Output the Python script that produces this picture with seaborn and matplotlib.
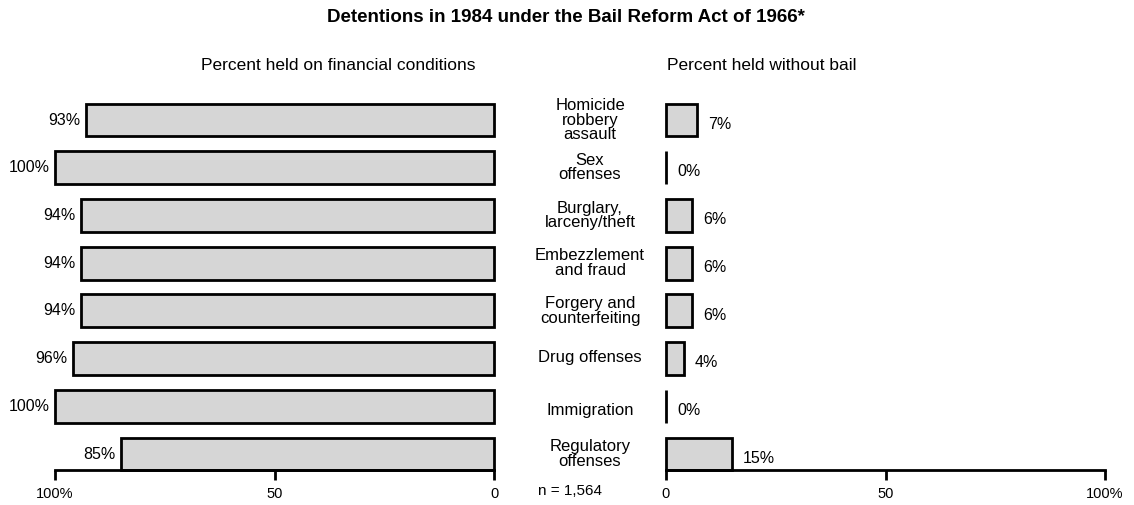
import matplotlib
matplotlib.use("Agg")
import matplotlib.pyplot as plt
import matplotlib.transforms as mtrans
import seaborn as sns
import pandas as pd

categories = ["Homicide\nrobbery\nassault", "Sex\noffenses", "Burglary,\nlarceny/theft",
              "Embezzlement\nand fraud", "Forgery and\ncounterfeiting", "Drug offenses",
              "Immigration", "Regulatory\noffenses"]
financial = [93, 100, 94, 94, 94, 96, 100, 85]
without_bail = [7, 0, 6, 6, 6, 4, 0, 15]
title = "Detentions in 1984 under the Bail Reform Act of 1966*"
left_title = "Percent held on financial conditions"
right_title = "Percent held without bail"
n_label = "n = 1,564"

df = pd.DataFrame({"category": categories, "financial": financial, "without": without_bail})

sns.set_theme(style="white")
plt.rcParams["font.family"] = ["Liberation Sans", "DejaVu Sans"]
plt.rcParams["text.color"] = "black"
plt.rcParams["xtick.color"] = "black"
plt.rcParams["xtick.labelcolor"] = "black"

W, H = 1134, 505
fig = plt.figure(figsize=(W / 100, H / 100), dpi=100)
top_px, bot_px = 95, 470
axL = fig.add_axes([55 / W, 1 - bot_px / H, 439 / W, (bot_px - top_px) / H])
axR = fig.add_axes([666 / W, 1 - bot_px / H, 439 / W, (bot_px - top_px) / H])

fill = "#d6d6d6"
for ax, col in [(axL, "financial"), (axR, "without")]:
    sns.barplot(data=df, x=col, y="category", orient="h", ax=ax, color=fill,
                edgecolor="black", linewidth=2, width=0.69, saturation=1)
    for p in ax.patches:
        p.set_clip_on(False)
    ax.set_ylim(7.335, -0.524)
    ax.set_xlabel("")
    ax.set_ylabel("")
    ax.set_yticks([])
    for s in ["top", "left", "right"]:
        ax.spines[s].set_visible(False)
    ax.spines["bottom"].set_linewidth(2)
    ax.spines["bottom"].set_color("black")
    ax.tick_params(axis="x", direction="out", length=7, width=2, colors="black",
                   labelsize=10.5, pad=5, bottom=True)

axL.set_xlim(100, 0)
axL.set_xticks([100, 50, 0])
axL.set_xticklabels(["100%", "50", "0"])
axR.set_xlim(0, 100)
axR.set_xticks([0, 50, 100])
axR.set_xticklabels(["0", "50", "100%"])

for i, v in enumerate(financial):
    axL.annotate(f"{v}%", xy=(v, i), xytext=(-4, 0), textcoords="offset points",
                 ha="right", va="center", fontsize=11.5, annotation_clip=False)
for i, v in enumerate(without_bail):
    axR.annotate(f"{v}%", xy=(v, i), xytext=(8, -3), textcoords="offset points",
                 ha="left", va="center", fontsize=11.5, annotation_clip=False)

tr = mtrans.blended_transform_factory(axL.transAxes, axL.transData)
cx = (590 - 55) / 439
yoff = [0, 0, 0, 0, 0, -0.03, 0.08, 0]
for i, c in enumerate(categories):
    axL.text(cx, i + yoff[i], c, transform=tr, ha="center", va="center",
             fontsize=12, linespacing=0.95, clip_on=False)

fig.text(566 / W, 1 - 18 / H, title, ha="center", va="center", fontsize=13.5, fontweight="bold")
fig.text(338 / W, 1 - 65 / H, left_title, ha="center", va="center", fontsize=12.5)
fig.text(667 / W, 1 - 65 / H, right_title, ha="left", va="center", fontsize=12.5)
fig.text(570 / W, 1 - 491 / H, n_label, ha="center", va="center", fontsize=11)

fig.savefig("out.png", dpi=100, facecolor="white")
